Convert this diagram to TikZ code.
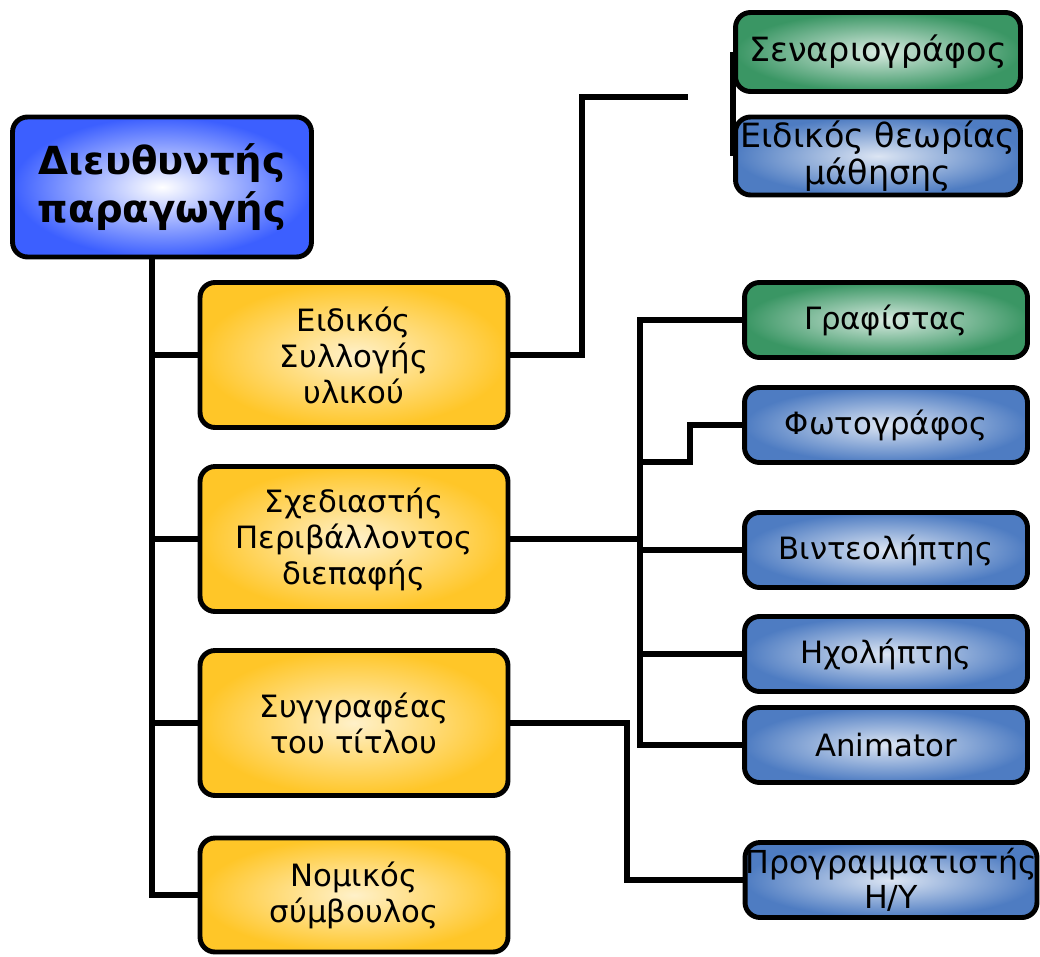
\documentclass[tikz,border=0pt]{standalone}
\usepackage{fontspec}
\setmainfont{DejaVu Sans}
\definecolor{chiefblue}{RGB}{60,95,255}
\definecolor{leadyellow}{RGB}{255,198,40}
\definecolor{crewgreen}{RGB}{58,150,100}
\definecolor{crewblue}{RGB}{78,124,194}

\begin{document}
\begin{tikzpicture}[x=0.02cm,y=-0.02cm,
  box/.style={draw=black,line width=2.8pt,rounded corners=0.3cm,align=center,inner sep=1pt,
    font=\fontsize{17.5}{20.5}\selectfont},
  chief/.style={box,inner color=white,outer color=chiefblue,minimum width=5.98cm,minimum height=2.8cm,
    font=\fontsize{22}{27}\selectfont\bfseries},
  lead/.style={box,inner color=leadyellow!25,outer color=leadyellow,minimum width=6.16cm,minimum height=2.9cm},
  crew/.style={box,inner color=crewblue!20,outer color=crewblue,minimum width=5.66cm,minimum height=1.5cm},
  crewg/.style={crew,inner color=crewgreen!20,outer color=crewgreen},
  link/.style={line width=3pt}]
  \useasboundingbox (0,0) rectangle (1040,956);
  % head of the team
  \node[chief] (chief) at (162,187) {Διευθυντής\\παραγωγής};
  % second level
  \node[lead] (coll) at (354,355) {Ειδικός\\Συλλογής\\υλικού};
  \node[lead] (design) at (354,539) {Σχεδιαστής\\Περιβάλλοντος\\διεπαφής};
  \node[lead] (author) at (354,723) {Συγγραφέας\\του τίτλου};
  \node[lead,minimum height=2.28cm] (legal) at (354,895) {Νομικός\\σύμβουλος};
  % third level
  \node[crewg,minimum width=5.7cm,minimum height=1.58cm,inner sep=0pt,font=\fontsize{19}{21}\selectfont] (script) at (878,52) {Σεναριογράφος};
  \node[crew,minimum width=5.7cm,minimum height=1.56cm,inner sep=0pt,font=\fontsize{19}{21}\selectfont] (theory) at (878,156) {Ειδικός θεωρίας\\μάθησης};
  \node[crewg] (graph) at (886,320) {Γραφίστας};
  \node[crew] (photo) at (886,425) {Φωτογράφος};
  \node[crew] (video) at (886,550) {Βιντεολήπτης};
  \node[crew] (sound) at (886,654) {Ηχολήπτης};
  \node[crew] (anim) at (886,745) {Animator};
  \node[crew,minimum width=5.84cm,inner sep=0pt,font=\fontsize{18}{20}\selectfont] (prog) at (891,880) {Προγραμματιστής\\Η/Υ};
  % trunk
  \coordinate (trunk) at ([xshift=-0.2cm]chief.south);
  \draw[link] (trunk) |- (legal.west);
  \draw[link] (trunk |- coll.west) -- (coll.west);
  \draw[link] (trunk |- design.west) -- (design.west);
  \draw[link] (trunk |- author.west) -- (author.west);
  % material expert
  \coordinate (bend) at (582,97);
  \coordinate (gapend) at (688,97);
  \draw[link] (coll.east) -| (bend) -- (gapend);
  \draw[link] (script.west) -- (theory.west);
  % interface designer bus
  \coordinate (bus) at (640,538);
  \coordinate (jog) at (690,462);
  \draw[link] (design.east) -- (design.east -| bus);
  \draw[link] (graph.west) -| (bus |- anim.west) -- (anim.west);
  \draw[link] (bus |- video.west) -- (video.west);
  \draw[link] (bus |- sound.west) -- (sound.west);
  \draw[link] (bus |- jog) -- (jog) |- (photo.west);
  % author to programmer
  \coordinate (drop) at (627,880);
  \draw[link] (author.east) -| (drop) -- (prog.west);
\end{tikzpicture}
\end{document}
